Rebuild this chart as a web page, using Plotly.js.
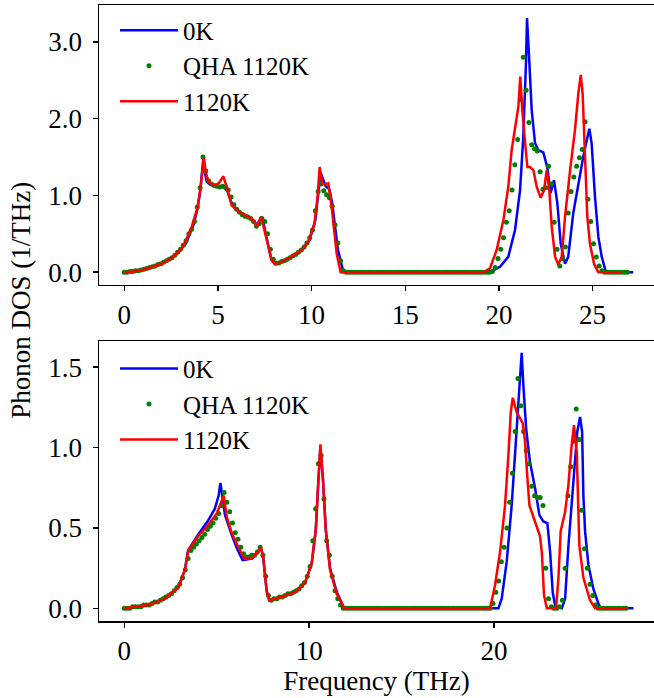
<!DOCTYPE html>
<html><head><meta charset="utf-8">
<script src="https://cdn.plot.ly/plotly-3.0.1.min.js"></script>
<style>html,body{margin:0;padding:0;background:#fff;overflow:hidden}</style>
</head><body><div id="chart" style="width:654px;height:698px"></div>
<script>
// ---------- Data ----------
const seriesNames = ["0K", "QHA 1120K", "1120K"];

// Top panel: 0K (blue line)
const top0K_x = [0,0.5,1.0,1.5,2.0,2.5,3.0,3.3,3.5,3.7,3.9,4.05,4.15,4.22,4.3,4.4,4.6,5.0,5.3,5.5,5.7,5.9,6.2,6.5,6.8,7.05,7.2,7.32,7.45,7.85,8.05,8.5,9.0,9.5,9.9,10.2,10.35,10.48,10.6,10.75,10.95,11.1,11.4,11.7,19.5,20.06,20.5,20.86,21.13,21.3,21.45,21.5,21.62,21.75,21.93,22.1,22.37,22.58,22.76,22.94,23.12,23.3,23.53,23.7,23.97,24.24,24.5,24.69,24.83,24.95,25.13,25.31,25.49,25.72,27.17];
const top0K_y = [0,0.01,0.03,0.07,0.11,0.18,0.29,0.38,0.5,0.62,0.82,1.05,1.3,1.48,1.3,1.18,1.14,1.12,1.11,1.06,0.92,0.84,0.78,0.74,0.70,0.62,0.66,0.72,0.62,0.16,0.11,0.15,0.21,0.29,0.42,0.68,1.05,1.30,1.22,1.12,1.08,0.9,0.3,0,0,0.07,0.2,0.55,1.07,1.76,2.76,3.31,2.76,2.11,1.68,1.59,1.56,1.37,1.03,1.2,0.9,0.37,0.11,0.2,0.77,1.16,1.5,1.72,1.87,1.68,0.98,0.46,0.2,0,0];

// Top panel: QHA 1120K (green dots), sampled every 0.15 THz from 0
const topQHA_start = 0, topQHA_step = 0.15;
const topQHA_y = [
0,0,0.01,0.01,0.02,0.02,0.03,0.04,0.05,0.06,
0.07,0.08,0.10,0.11,0.13,0.15,0.17,0.19,0.22,0.26,
0.30,0.35,0.41,0.50,0.56,0.66,0.85,1.10,1.50,1.32,
1.19,1.15,1.13,1.12,1.11,1.12,1.11,1.07,0.98,0.88,
0.82,0.78,0.75,0.73,0.72,0.70,0.66,0.60,0.63,0.70,
0.66,0.50,0.30,0.17,0.12,0.12,0.14,0.15,0.17,0.19,
0.21,0.23,0.26,0.29,0.33,0.38,0.45,0.55,0.80,1.05,
1.15,1.06,1.01,0.97,0.86,0.62,0.38,0.15,0.02,0,
0,0,0,0,0,0,0,0,0,0,
0,0,0,0,0,0,0,0,0,0,
0,0,0,0,0,0,0,0,0,0,
0,0,0,0,0,0,0,0,0,0,
0,0,0,0,0,0,0,0,0,0,
0,0.01,0.06,0.18,0.30,0.45,0.65,0.80,1.07,1.40,
1.73,2.25,2.80,2.37,1.95,1.66,1.61,1.58,1.31,1.08,
1.10,1.38,1.15,0.65,0.30,0.08,0.18,0.33,0.77,1.05,
1.24,1.38,1.49,1.60,1.96,0.95,0.66,0.37,0.20,0.08,
0.02,0,0,0,0,0,0,0,0,0];

// Top panel: 1120K (red line)
const top1120_x = [0,0.5,1.0,1.28,2.0,2.35,2.7,3.06,3.3,3.6,3.92,4.1,4.2,4.25,4.35,4.49,4.84,5.05,5.29,5.47,5.73,6.09,6.53,6.8,7.07,7.25,7.3,7.42,7.87,8.05,8.76,9.47,9.83,10.15,10.32,10.43,10.57,10.7,10.89,11.07,11.34,11.55,19.17,19.52,19.88,20.24,20.5,20.68,20.86,21.04,21.14,21.25,21.4,21.52,21.66,21.84,22.02,22.23,22.41,22.55,22.69,22.82,23.0,23.17,23.35,23.53,23.8,24.06,24.24,24.37,24.47,24.6,24.72,24.86,25.08,25.31,26.56];
const top1120_y = [0,0.01,0.03,0.05,0.11,0.156,0.22,0.31,0.42,0.59,0.85,1.16,1.45,1.50,1.3,1.18,1.13,1.16,1.25,1.11,0.87,0.79,0.73,0.70,0.60,0.70,0.72,0.61,0.156,0.10,0.18,0.29,0.40,0.63,0.98,1.37,1.16,1.14,1.16,0.85,0.24,0,0,0.05,0.29,0.68,1.11,1.59,1.85,2.16,2.55,2.11,1.68,1.37,1.37,1.33,1.11,0.97,1.07,1.33,1.07,0.59,0.2,0.1,0.2,0.72,1.33,1.85,2.33,2.57,2.33,1.46,0.72,0.37,0.11,0,0];

// Bottom panel: 0K (blue line)
const bot0K_x = [0,0.6,1.3,2.2,2.92,3.28,3.45,4.0,4.5,4.9,5.1,5.2,5.3,5.45,5.8,6.1,6.4,6.9,7.15,7.38,7.5,7.7,7.85,8.52,9.24,9.78,10.14,10.36,10.5,10.61,10.75,10.9,11.13,11.5,11.9,20.24,20.42,20.69,20.96,21.23,21.41,21.5,21.59,21.74,21.95,22.22,22.46,22.67,22.89,23.04,23.18,23.32,23.67,23.85,24.03,24.21,24.39,24.51,24.66,24.77,24.84,24.93,25.11,25.38,25.65,25.78,27.55];
const bot0K_y = [0,0.01,0.02,0.06,0.13,0.24,0.36,0.46,0.54,0.62,0.70,0.78,0.70,0.58,0.46,0.37,0.30,0.31,0.34,0.38,0.33,0.11,0.05,0.07,0.10,0.16,0.28,0.49,0.80,1.0,0.80,0.49,0.25,0.1,0,0,0.06,0.29,0.64,1.12,1.43,1.59,1.39,1.12,0.91,0.75,0.58,0.54,0.53,0.35,0.10,0.01,0,0.06,0.39,0.66,0.87,1.10,1.19,1.10,0.70,0.48,0.27,0.12,0.03,0,0];

// Bottom panel: QHA 1120K (green dots), sampled every 0.15 THz from 0
const botQHA_start = 0, botQHA_step = 0.15;
const botQHA_y = [
0,0,0,0.01,0.01,0.01,0.01,0.02,0.02,0.02,
0.03,0.04,0.04,0.05,0.06,0.07,0.08,0.09,0.11,0.13,
0.15,0.19,0.24,0.31,0.36,0.38,0.40,0.42,0.44,0.46,
0.49,0.51,0.53,0.56,0.59,0.64,0.72,0.66,0.60,0.53,
0.47,0.43,0.38,0.34,0.32,0.32,0.33,0.33,0.35,0.38,
0.33,0.20,0.08,0.05,0.06,0.06,0.07,0.07,0.08,0.09,
0.09,0.10,0.11,0.12,0.14,0.16,0.20,0.26,0.42,0.62,
0.90,0.95,0.68,0.42,0.33,0.20,0.11,0.06,0.02,0,
0,0,0,0,0,0,0,0,0,0,
0,0,0,0,0,0,0,0,0,0,
0,0,0,0,0,0,0,0,0,0,
0,0,0,0,0,0,0,0,0,0,
0,0,0,0,0,0,0,0,0,0,
0,0,0,0.03,0.10,0.17,0.29,0.38,0.50,0.66,
0.84,1.10,1.43,1.26,1.10,0.98,0.90,0.76,0.70,0.69,
0.69,0.64,0.25,0.06,0.01,0,0,0.01,0.05,0.25,
0.70,0.88,1.04,1.24,1.05,0.61,0.37,0.25,0.15,0.08,
0.02,0,0,0,0,0,0,0,0,0,
0,0];

// Bottom panel: 1120K (red line)
const bot1120_x = [0,0.6,1.3,2.2,2.92,3.28,3.46,4.0,4.55,5.0,5.23,5.38,5.54,5.81,6.17,6.49,6.89,7.16,7.38,7.52,7.7,7.83,8.52,9.24,9.78,10.14,10.36,10.5,10.61,10.75,10.9,11.13,11.49,11.85,11.9,19.79,20.06,20.33,20.6,20.78,20.91,21.02,21.23,21.56,21.68,21.81,21.92,22.22,22.49,22.59,22.71,22.86,23.36,23.49,23.61,23.85,24.03,24.21,24.33,24.48,24.62,24.84,25.2,25.47,27.19];
const bot1120_y = [0,0.01,0.02,0.06,0.13,0.24,0.36,0.45,0.52,0.59,0.65,0.70,0.57,0.47,0.38,0.31,0.31,0.34,0.38,0.32,0.11,0.05,0.07,0.10,0.16,0.28,0.49,0.80,1.02,0.80,0.49,0.24,0.09,0.01,0,0,0.145,0.35,0.64,0.95,1.22,1.31,1.22,1.15,1.04,0.81,0.64,0.54,0.45,0.35,0.08,0,0,0.19,0.48,0.60,0.77,1.02,1.14,0.97,0.39,0.19,0.05,0,0];

// Axis ticks
const topXTicks = [0,5,10,15,20,25];
const botXTicks = [0,10,20];
const topYTicks = [0,1,2,3];
const botYTicks = [0,0.5,1,1.5];

// ---------- Build ----------
function grid(start, step, n){ const a=[]; for(let i=0;i<n;i++) a.push(+(start+i*step).toFixed(4)); return a; }
const FONT = "Liberation Serif";
const FS = 27, LFS = 25;
const BLUE = "#0000ff", GREEN = "#008000", RED = "#ff0000";

const traces = [
  {x: top0K_x, y: top0K_y, mode:"lines", name:seriesNames[0], line:{color:BLUE,width:2.5}, xaxis:"x", yaxis:"y", legend:"legend"},
  {x: grid(topQHA_start, topQHA_step, topQHA_y.length), y: topQHA_y, mode:"markers", name:seriesNames[1], marker:{color:GREEN,size:5}, xaxis:"x", yaxis:"y", legend:"legend"},
  {x: top1120_x, y: top1120_y, mode:"lines", name:seriesNames[2], line:{color:RED,width:2.5}, xaxis:"x", yaxis:"y", legend:"legend"},
  {x: bot0K_x, y: bot0K_y, mode:"lines", name:seriesNames[0], line:{color:BLUE,width:2.5}, xaxis:"x2", yaxis:"y2", legend:"legend2"},
  {x: grid(botQHA_start, botQHA_step, botQHA_y.length), y: botQHA_y, mode:"markers", name:seriesNames[1], marker:{color:GREEN,size:5}, xaxis:"x2", yaxis:"y2", legend:"legend2"},
  {x: bot1120_x, y: bot1120_y, mode:"lines", name:seriesNames[2], line:{color:RED,width:2.5}, xaxis:"x2", yaxis:"y2", legend:"legend2"}
];

const axBase = {showline:true, linecolor:"#000", linewidth:1.5, ticks:"outside", ticklen:5, tickwidth:1.5, tickcolor:"#000",
  showgrid:false, zeroline:false, tickfont:{family:FONT,size:FS,color:"#000"}, fixedrange:true};

const legBase = {xanchor:"left", yanchor:"top", bgcolor:"rgba(0,0,0,0)", borderwidth:0,
  font:{family:FONT,size:LFS,color:"#000"}, itemwidth:58, tracegroupgap:0};

const layout = {
  width:654, height:698,
  margin:{l:99, r:0, t:5, b:77},
  paper_bgcolor:"#fff", plot_bgcolor:"#fff",
  font:{family:FONT,size:FS,color:"#000"},
  showlegend:true,
  xaxis: Object.assign({}, axBase, {domain:[0,1], anchor:"y", range:[-1.35,28.28], tickmode:"array", tickvals:topXTicks, mirror:true}),
  yaxis: Object.assign({}, axBase, {domain:[0.5455,1], anchor:"x", range:[-0.166,3.481], tickmode:"array", tickvals:topYTicks, tickformat:".1f", ticklabelstandoff:5}),
  xaxis2: Object.assign({}, axBase, {domain:[0,1], anchor:"y2", range:[-1.37,28.66], tickmode:"array", tickvals:botXTicks, mirror:true,
    title:{text:"Frequency (THz)", font:{family:FONT,size:FS,color:"#000"}, standoff:4}}),
  yaxis2: Object.assign({}, axBase, {domain:[0,0.4545], anchor:"x2", range:[-0.079,1.663], tickmode:"array", tickvals:botYTicks, tickformat:".1f", ticklabelstandoff:5}),
  legend: Object.assign({}, legBase, {x:0.0288, y:0.996}),
  legend2: Object.assign({}, legBase, {x:0.0288, y:0.447}),
  annotations:[{text:"Phonon DOS (1/THz)", xref:"paper", yref:"paper", x:-0.141, y:0.521, xanchor:"center", yanchor:"middle",
    textangle:-90, showarrow:false, font:{family:FONT,size:FS,color:"#000"}}]
};

Plotly.newPlot("chart", traces, layout, {displayModeBar:false, staticPlot:true});
</script></body></html>
